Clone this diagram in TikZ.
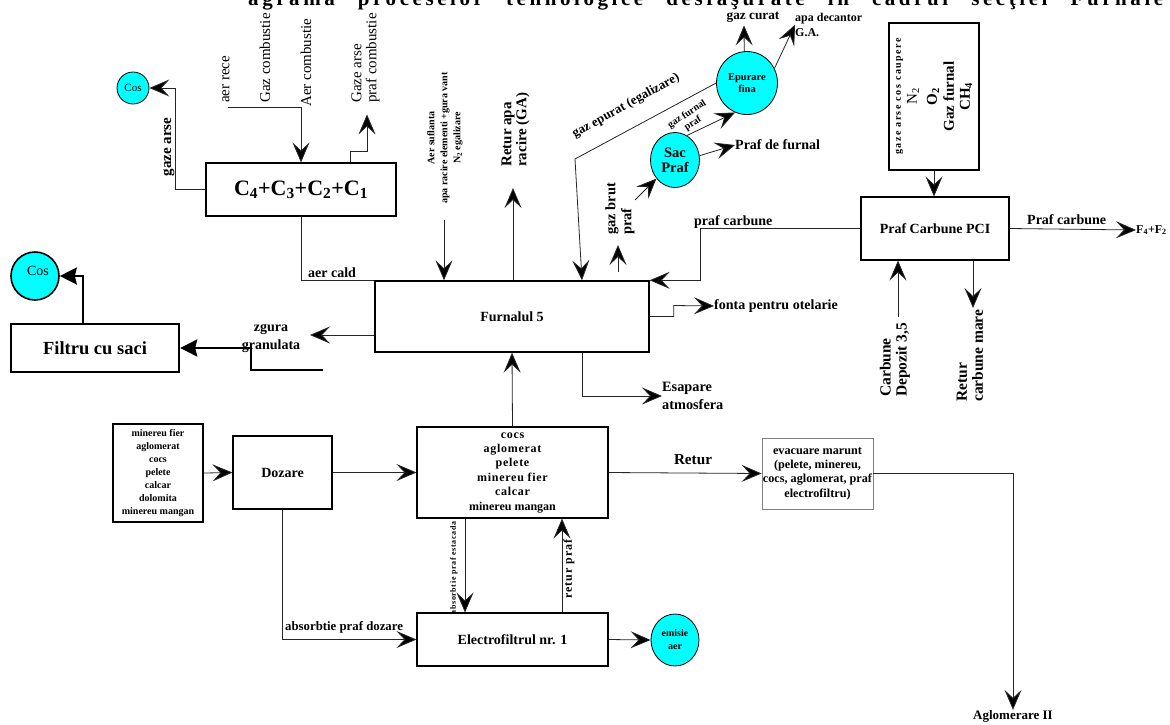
\documentclass[tikz,border=0pt]{standalone}
\usepackage{fontspec}
\setmainfont{Liberation Serif}
\usetikzlibrary{arrows.meta, positioning, shapes.geometric}
\definecolor{aqua}{RGB}{0,255,255}
\newcommand\spaced[2]{{\addfontfeatures{LetterSpace=#1}#2}}

\begin{document}
\begin{tikzpicture}[x=1pt, y=-1pt,
    box/.style={draw, line width=1.1pt, inner sep=0pt, align=center},
    tank/.style={ellipse, draw, line width=0.8pt, fill=aqua, inner sep=0pt, align=center},
    pipe/.style={line width=0.8pt, draw=black!85, -{Stealth[length=20pt, width=17pt, inset=8pt, fill=black]}},
    line/.style={line width=0.8pt, draw=black!85},
    bigpipe/.style={line width=2.4pt, -{Stealth[length=17pt, width=17pt, inset=2pt]}},
    lbl/.style={inner sep=0pt, font=\bfseries\fontsize{14}{17}\selectfont},
    vlbl/.style={lbl, rotate=90, anchor=west, align=left}]
\useasboundingbox (0,0) rectangle (1170,724);
\fill[white] (0,0) rectangle (1170,724);

% titlu (taiat sus)
\node[anchor=base west, inner sep=0pt, font=\bfseries\fontsize{21}{22}\selectfont] (title) at (248,5)
  {\makebox[915pt][s]{\addfontfeatures{LetterSpace=17}agrama proceselor tehnologice desfaşurate în cadrul secţiei Furnale}};

% blocuri
\node[box, minimum width=190pt, minimum height=53pt, font=\bfseries\fontsize{22}{24}\selectfont] (c4) at (301,189.5)
  {C\textsubscript{4}+C\textsubscript{3}+C\textsubscript{2}+C\textsubscript{1}};
\node[box, line width=1.4pt, minimum width=274pt, minimum height=71pt, font=\bfseries\fontsize{14}{16}\selectfont] (furnal) at (512,316.5) {Furnalul 5};
\node[box, rotate=90, minimum width=147pt, minimum height=90pt, font=\bfseries\fontsize{15}{17}\selectfont] (gazbox) at (934,96.5)
  {{\fontsize{10}{13}\selectfont\spaced{15}{gaze arse cos caupere}}\\[-1pt]
   {\mdseries N\textsubscript{2}}\\[3pt] O\textsubscript{2}\\ Gaz furnal\\[-1pt] CH\textsubscript{4}};
\node[box, minimum width=148pt, minimum height=63pt, font=\bfseries\fontsize{14}{16}\selectfont] (pci) at (935,228.5) {Praf Carbune PCI};
\node[box, line width=2.4pt, minimum width=168pt, minimum height=48pt, font=\bfseries\fontsize{18.5}{20}\selectfont] (filtru) at (95,348) {Filtru cu saci};
\node[box, line width=2pt, minimum width=90pt, minimum height=98pt, font=\bfseries\fontsize{10}{13}\selectfont] (mat) at (158,473)
  {minereu fier\\aglomerat\\cocs\\pelete\\calcar\\dolomita\\minereu mangan};
\node[box, minimum width=99pt, minimum height=73pt, font=\bfseries\fontsize{14}{16}\selectfont] (dozare) at (282.5,472.5) {Dozare};
\node[box, minimum width=191pt, minimum height=91pt, font=\bfseries\fontsize{12}{14.4}\selectfont] (incarcare) at (512.5,472.5)
  {\spaced{6}{cocs}\\\spaced{6}{aglomerat}\\\spaced{6}{pelete}\\\spaced{6}{minereu fier}\\\spaced{6}{calcar}\\minereu mangan};
\node[box, draw=black!50, line width=0.8pt, minimum width=111pt, minimum height=71pt, font=\bfseries\fontsize{12.2}{14.3}\selectfont] (evac) at (817.5,473.5)
  {evacuare marunt\\(pelete, minereu,\\cocs, aglomerat, praf\\electrofiltru)};
\node[box, minimum width=191pt, minimum height=53pt, font=\bfseries\fontsize{14}{16}\selectfont] (electro) at (512.5,639.5) {Electrofiltrul nr. 1};

% cosuri si filtre
\node[tank, circle, minimum size=32pt, font=\fontsize{11}{12}\selectfont] (cosA) at (133,88) {Cos};
\node[tank, circle, minimum size=48pt, line width=1.6pt] (cosB) at (35,276) {};
\node[font=\fontsize{14}{15}\selectfont, inner sep=0pt] (cosBtxt) at (38,271) {Cos};
\node[tank, minimum width=49pt, minimum height=55pt, font=\bfseries\fontsize{14.5}{15}\selectfont] (sacpraf) at (675,160) {Sac\\Praf};
\node[tank, minimum width=61pt, minimum height=63pt, font=\bfseries\fontsize{10.5}{12}\selectfont] (epurare) at (747,83) {Epurare\\fina};
\node[tank, minimum width=48pt, minimum height=52pt, font=\bfseries\fontsize{10}{13}\selectfont] (emisie) at (675,640) {emisie\\aer};

% cauperi
\draw[pipe] (c4.west) -- ++(-30,0) |- (cosA.east);
\node[lbl, rotate=90, font=\bfseries\fontsize{15}{16}\selectfont] (gazearse) at (169,147) {gaze arse};
\coordinate (aerrece) at (228,107);
\draw[pipe] (aerrece) -| (c4.north);
\node[vlbl, font=\fontsize{15}{16}\selectfont] (lblrece) at (226,103) {aer rece};
\node[vlbl, font=\fontsize{15}{16}\selectfont] (lblgaz) at (265,103) {Gaz combustie};
\node[vlbl, font=\fontsize{15}{16}\selectfont] (lblaer) at (306,107) {Aer combustie};
\draw[pipe] ([xshift=49pt]c4.north) -- ++(0,-11) -- ++(17,0) -- ++(0,-37);
\node[vlbl, font=\fontsize{15}{15}\selectfont] (lblarse) at (365.5,103) {Gaze arse\\praf combustie};
\draw[line] (c4.south) |- (furnal.north west);
\node[lbl, anchor=base west] (lblcald) at (308,277) {aer cald};

% intrari furnal
\coordinate (aerin) at (444,220);
\draw[pipe] (aerin) -- (aerin |- furnal.north);
\node[lbl, rotate=90, align=center, font=\bfseries\fontsize{10}{13}\selectfont] (lblsufl) at (445,138)
  {Aer suflanta\\apa racire elementi +gura vant\\N\textsubscript{2} egalizare};
\coordinate (returapa) at (513,188);
\draw[pipe] (furnal.north -| returapa) -- (returapa);
\node[vlbl, font=\bfseries\fontsize{15}{15}\selectfont] (lblretapa) at (515.5,167) {Retur apa\\racire (GA)};

% gaz furnal
\coordinate (epbend) at (575,159);
\draw[pipe] (epurare.west) -- (epbend) -- ([xshift=70pt]furnal.north);
\node[lbl, rotate=29, font=\bfseries\fontsize{13}{14}\selectfont] (lblepurat) at (626,106) {gaz epurat (egalizare)};
\coordinate (brutA) at (618,272);
\coordinate (brutB) at (618,245);
\draw[pipe] (brutA) -- (brutB);
\node[vlbl, font=\bfseries\fontsize{14.5}{16}\selectfont] (lblbrut) at (620,235) {gaz brut\\praf};
\coordinate (brutC) at (635,200);
\draw[pipe] (brutC) -- (sacpraf.225);
\draw[pipe] (sacpraf.64) -- (epurare.248);
\node[lbl, rotate=33, align=center, font=\bfseries\fontsize{10}{11}\selectfont] (lblgazf) at (690,119) {gaz furnal\\praf};
\node[lbl, anchor=west] (praffurnal) at (735,145) {Praf de furnal};
\draw[pipe] (sacpraf.10) -- (praffurnal.west);
\node[lbl, font=\bfseries\fontsize{13.3}{14}\selectfont] (gazcurat) at (753,17) {gaz curat};
\draw[pipe] (epurare.95) -- ([xshift=-9pt, yshift=-3pt]gazcurat.south);
\node[lbl, anchor=north west, align=left, font=\bfseries\fontsize{12}{14.5}\selectfont] (apadec) at (795,13) {apa decantor\\G.A.};
\draw[pipe] (epurare.28) -- (apadec.west);

% carbune
\draw[pipe] (gazbox.west) -- (gazbox.west |- pci.north);
\node[lbl, anchor=west, font=\bfseries\fontsize{12}{14}\selectfont] (f4f2) at (1136,230) {F\textsubscript{4}+F\textsubscript{2}};
\draw[pipe] (pci.east) -- (f4f2.west);
\node[lbl, anchor=base west] (lblpcout) at (1027,224) {Praf carbune};
\coordinate (carbin) at (898,317);
\draw[pipe] (carbin) -- (carbin |- pci.south);
\node[vlbl, font=\bfseries\fontsize{15.5}{16}\selectfont] (lblcarb) at (895,397) {Carbune\\Depozit 3,5};
\coordinate (returcarb) at (973,308);
\draw[pipe] (pci.south -| returcarb) -- (returcarb);
\node[vlbl, font=\bfseries\fontsize{15.5}{16}\selectfont] (lblretcarb) at (970,402) {Retur\\carbune mare};
\draw[pipe] (pci.west) -- ++(-160,0) |- (furnal.north east);
\node[lbl, anchor=base west] (lblpcin) at (694,225) {praf carbune};

% iesiri furnal
\node[lbl, anchor=west] (fonta) at (714,306) {fonta pentru otelarie};
\draw[pipe] (furnal.east) -- ++(24,0) -- ++(0,-11) -- (fonta.west);
\node[lbl, anchor=west, align=left, font=\bfseries\fontsize{14.3}{18}\selectfont] (esapare) at (662,396) {Esapare\\atmosfera};
\draw[pipe] ([xshift=70pt]furnal.south) |- (esapare.west);
\coordinate (zguraend) at (310,335);
\draw[pipe] (furnal.west |- zguraend) -- (zguraend);
\node[lbl, align=center, font=\bfseries\fontsize{14}{18}\selectfont] (zgura) at (271,338) {zgura\\granulata};
\coordinate (slagA) at (323,370);
\draw[bigpipe] (slagA) -- ++(-72,0) |- (filtru.east);
\draw[bigpipe] ([xshift=-12pt]filtru.north) |- (cosB.east);

% incarcare
\draw[pipe] (incarcare.north) -- (furnal.south);
\draw[pipe] (mat.east) -- (dozare.west);
\draw[pipe] (dozare.east) -- (incarcare.west);
\draw[pipe] (dozare.south) |- (electro.west);
\node[lbl, anchor=base west, font=\bfseries\fontsize{12.8}{14}\selectfont] (lbldoz) at (285,630) {absorbtie praf dozare};
\draw[pipe] ([xshift=-47.5pt]incarcare.south) -- ([xshift=-47.5pt]electro.north);
\node[lbl, rotate=90, font=\bfseries\fontsize{8}{9}\selectfont] (lblestac) at (454,568) {\spaced{8}{absorbtie praf estacada}};
\draw[pipe] ([xshift=49.5pt]electro.north) -- ([xshift=49.5pt]incarcare.south);
\node[lbl, rotate=90, font=\bfseries\fontsize{12}{13}\selectfont] (lblretpraf) at (569,569) {\spaced{8}{retur praf}};
\draw[pipe] (electro.east) -- (emisie.west);
\draw[pipe] (incarcare.east) -- (evac.west);
\node[lbl, anchor=base, font=\bfseries\fontsize{15.2}{16}\selectfont] (lblretur) at (693,464) {Retur};
\node[lbl, font=\bfseries\fontsize{13}{14}\selectfont] (aglom) at (1013,716) {Aglomerare II};
\draw[pipe] (evac.east) -| (aglom.north);
\end{tikzpicture}
\end{document}
